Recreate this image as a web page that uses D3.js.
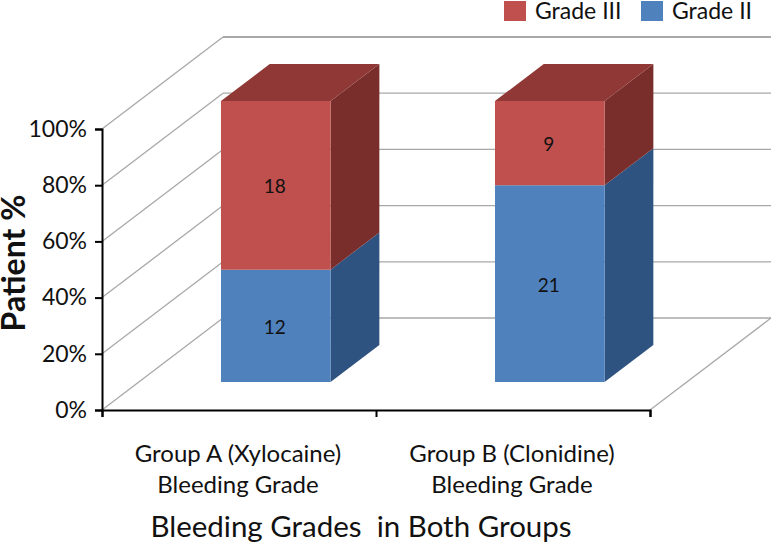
<!DOCTYPE html>
<html>
<head>
<meta charset="utf-8">
<script src="https://cdn.jsdelivr.net/npm/d3@7"></script>
<style>
  html, body { margin: 0; padding: 0; background: #fff; }
  text { font-family: Lato, "Noto Sans", sans-serif; fill: #111; white-space: pre; }
</style>
</head>
<body>
<div id="graph"></div>
<script>
const groups = ["Group A (Xylocaine)", "Group B (Clonidine)"];
const groupSub = ["Bleeding Grade", "Bleeding Grade"];
const gradeII = [12, 21];
const gradeIII = [18, 9];
const percentTicks = [0, 20, 40, 60, 80, 100];

const width = 774, height = 545;

let svg = d3.select("#graph").append("svg")
    .attr("width", width)
    .attr("height", height)
    .style("display", "block");

let x = d3.scaleLinear().domain([0, 2]).range([102, 650]);
let y = d3.scaleLinear().domain([0, 100]).range([410, 129]);

// depth: 0 = front of the floor, 1 = back wall
let dx = d3.scaleLinear().domain([0, 1]).range([0, 121]);
let dy = d3.scaleLinear().domain([0, 1]).range([0, -92]);
const barFront = 0.304, barBack = 0.707, barWidth = 0.4;

// project a point (category position, percent, depth) to the screen
function pt(c, p, d) {
    return [x(c) + dx(d), y(p) + dy(d)];
}

// walls
let grid = svg.append("g").attr("fill", "none").attr("stroke", "#a8a8a8").attr("stroke-width", 1.3);
percentTicks.forEach(p => {
    grid.append("path").attr("d", d3.line()([pt(0, p, 0), pt(0, p, 1)]));
    grid.append("path").attr("d", d3.line()([pt(0, p, 1), pt(2, p, 1)]))
        .attr("stroke-width", p === 100 ? 2 : 1.3);
});
grid.append("path").attr("d", d3.line()([pt(2, 0, 1), pt(2, 0, 0)]));

// bars
const series = [
    { name: "Grade II", values: gradeII, front: "#4f81bd", side: "#2f5380", top: "#3a6494" },
    { name: "Grade III", values: gradeIII, front: "#c0504d", side: "#7a2e2c", top: "#8f3835" }
];

function poly(g, pts, fill) {
    g.append("polygon")
        .attr("points", pts.map(q => q.join(",")).join(" "))
        .attr("fill", fill);
}

groups.forEach((name, i) => {
    let g = svg.append("g").attr("class", "bar");
    let total = gradeII[i] + gradeIII[i];
    let c0 = i + 0.5 - barWidth / 2, c1 = i + 0.5 + barWidth / 2;
    let base = 0;
    series.forEach(s => {
        let p0 = base / total * 100;
        let p1 = (base + s.values[i]) / total * 100;
        poly(g, [pt(c1, p0, barFront), pt(c1, p0, barBack), pt(c1, p1, barBack), pt(c1, p1, barFront)], s.side);
        poly(g, [pt(c0, p0, barFront), pt(c1, p0, barFront), pt(c1, p1, barFront), pt(c0, p1, barFront)], s.front);
        if (s.name === "Grade III") {
            poly(g, [pt(c0, p1, barFront), pt(c1, p1, barFront), pt(c1, p1, barBack), pt(c0, p1, barBack)], s.top);
        }
        let mid = pt(i + 0.5, (p0 + p1) / 2, barFront);
        g.append("text")
            .attr("x", mid[0] - 1)
            .attr("y", mid[1] + 8)
            .attr("text-anchor", "middle")
            .style("font-size", "19px")
            .text(s.values[i]);
        base += s.values[i];
    });
});

// axes
let yAxis = svg.append("g")
    .attr("transform", "translate(102,0)")
    .call(d3.axisLeft(y).tickValues(percentTicks).tickSize(7).tickPadding(8).tickFormat(d => d + "%"));
yAxis.selectAll("text").style("font-size", "23px");

let xAxis = svg.append("g")
    .attr("transform", "translate(0,410)")
    .call(d3.axisBottom(x).tickValues([0, 1, 2]).tickSize(7).tickFormat(""));

svg.selectAll(".domain, .tick line")
    .attr("stroke", "#000")
    .attr("stroke-width", 2);

// category labels
groups.forEach((name, i) => {
    svg.append("text").attr("x", x(i + 0.5) - 1).attr("y", 462)
        .attr("text-anchor", "middle").style("font-size", "24px").text(name);
    svg.append("text").attr("x", x(i + 0.5) - 1).attr("y", 493)
        .attr("text-anchor", "middle").style("font-size", "24px").text(groupSub[i]);
});

// titles
svg.append("text").attr("x", 361).attr("y", 537)
    .attr("text-anchor", "middle").style("font-size", "29.5px").text("Bleeding Grades  in Both Groups");

svg.append("text").attr("transform", "translate(25,263) rotate(-90)")
    .attr("text-anchor", "middle")
    .style("font-size", "32px").style("font-weight", "bold")
    .text("Patient %");

// legend
const legendNames = ["Grade III", "Grade II"];
const legendColors = ["#c0504d", "#4f81bd"];
let legendX = d3.scaleOrdinal().domain(legendNames).range([504, 641]);
legendNames.forEach((n, i) => {
    svg.append("rect").attr("x", legendX(n)).attr("y", 1).attr("width", 22).attr("height", 20)
        .attr("fill", legendColors[i]);
    svg.append("text").attr("x", legendX(n) + 31).attr("y", 19)
        .style("font-size", "23px").text(n);
});
</script>
</body>
</html>
